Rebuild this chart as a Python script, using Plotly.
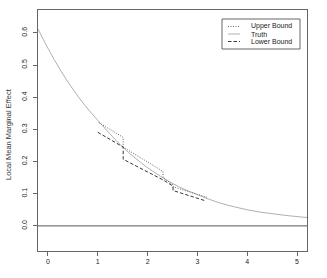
import plotly.graph_objects as go

# ---- data ----
truth_x = [-0.2, 0.0, 0.25, 0.5, 0.75, 1.0, 1.25, 1.5, 1.75, 2.0, 2.25, 2.5,
           2.75, 3.0, 3.25, 3.5, 3.75, 4.0, 4.25, 4.5, 4.75, 5.0, 5.2]
truth_y = [0.612, 0.552, 0.484, 0.425, 0.373, 0.328, 0.285, 0.245, 0.211, 0.181,
           0.155, 0.132, 0.113, 0.097, 0.082, 0.069, 0.059, 0.050, 0.043, 0.038,
           0.033, 0.029, 0.026]

upper_x = [1.02, 1.51, 1.51, 2.31, 2.31, 2.51, 2.51, 3.19]
upper_y = [0.321, 0.275, 0.245, 0.169, 0.150, 0.128, 0.122, 0.089]

lower_x = [1.00, 1.51, 1.51, 2.31, 2.31, 2.51, 2.51, 3.14]
lower_y = [0.291, 0.245, 0.207, 0.143, 0.143, 0.124, 0.110, 0.079]

x_ticks = [0, 1, 2, 3, 4, 5]
y_ticks = [0.0, 0.1, 0.2, 0.3, 0.4, 0.5, 0.6]
y_labels = ["0.0", "0.1", "0.2", "0.3", "0.4", "0.5", "0.6"]

legend_names = ["Upper Bound", "Truth", "Lower Bound"]

W, H = 327, 278
L, R, T, B = 38, 20, 10, 27
FONT = "Liberation Sans, Arial, sans-serif"

UP_STYLE = dict(color="#555555", width=0.9, dash="1px,1.5px")
TR_STYLE = dict(color="#b0b0b0", width=1)
LO_STYLE = dict(color="#222222", width=0.9, dash="3.5px,2px")

fig = go.Figure()
fig.add_trace(go.Scatter(x=truth_x, y=truth_y, mode="lines", line_shape="spline",
                         line=TR_STYLE, showlegend=False, hoverinfo="skip"))
fig.add_trace(go.Scatter(x=upper_x, y=upper_y, mode="lines",
                         line=UP_STYLE, showlegend=False, hoverinfo="skip"))
fig.add_trace(go.Scatter(x=lower_x, y=lower_y, mode="lines",
                         line=LO_STYLE, showlegend=False, hoverinfo="skip"))

# horizontal reference line at zero
fig.add_shape(type="line", xref="paper", x0=0, x1=1, yref="y", y0=0, y1=0,
              line=dict(color="#555555", width=1))

# manual legend (pixel -> paper helpers)
pw, ph = W - L - R, H - T - B
def px(xp):
    return (xp - L) / pw
def py(yp):
    return (H - B - yp) / ph

fig.add_shape(type="rect", xref="paper", yref="paper",
              x0=px(222), x1=px(300), y0=py(49), y1=py(19),
              line=dict(color="#666666", width=1), fillcolor="white", layer="above")
styles = [UP_STYLE, TR_STYLE, LO_STYLE]
rows = [26.5, 34, 41.5]
for name, st, r in zip(legend_names, styles, rows):
    fig.add_shape(type="line", xref="paper", yref="paper",
                  x0=px(228), x1=px(240), y0=py(r), y1=py(r), line=st, layer="above")
    fig.add_annotation(xref="paper", yref="paper", x=px(249), y=py(r), text=name,
                       showarrow=False, xanchor="left", yanchor="middle",
                       font=dict(family=FONT, size=7, color="#222222"))

fig.add_annotation(xref="paper", yref="paper", x=px(8), y=py(134),
                   text="Local Mean Marginal Effect", textangle=-90, showarrow=False,
                   xanchor="center", yanchor="middle",
                   font=dict(family=FONT, size=7.5, color="#333333"))

fig.update_xaxes(range=[-0.2, 5.2], tickvals=x_ticks, ticktext=[str(v) for v in x_ticks],
                 showgrid=False, zeroline=False, showline=True, mirror=True,
                 linecolor="#666666", linewidth=1, ticks="outside", ticklen=4,
                 tickcolor="#666666", tickfont=dict(family=FONT, size=7, color="#222222"))
fig.update_yaxes(range=[-0.078, 0.671], tickvals=y_ticks, ticktext=y_labels,
                 showgrid=False, zeroline=False, showline=True, mirror=True,
                 linecolor="#666666", linewidth=1, ticks="outside", ticklen=4,
                 tickcolor="#666666", tickangle=-90, ticklabelstandoff=3,
                 tickfont=dict(family=FONT, size=7, color="#222222"))

fig.update_layout(width=W, height=H, margin=dict(l=L, r=R, t=T, b=B),
                  plot_bgcolor="white", paper_bgcolor="white", showlegend=False,
                  hovermode=False)

fig.write_html("out.html", config={"displayModeBar": False, "staticPlot": True},
               post_script="document.body.style.margin='0';document.body.style.padding='0';")
